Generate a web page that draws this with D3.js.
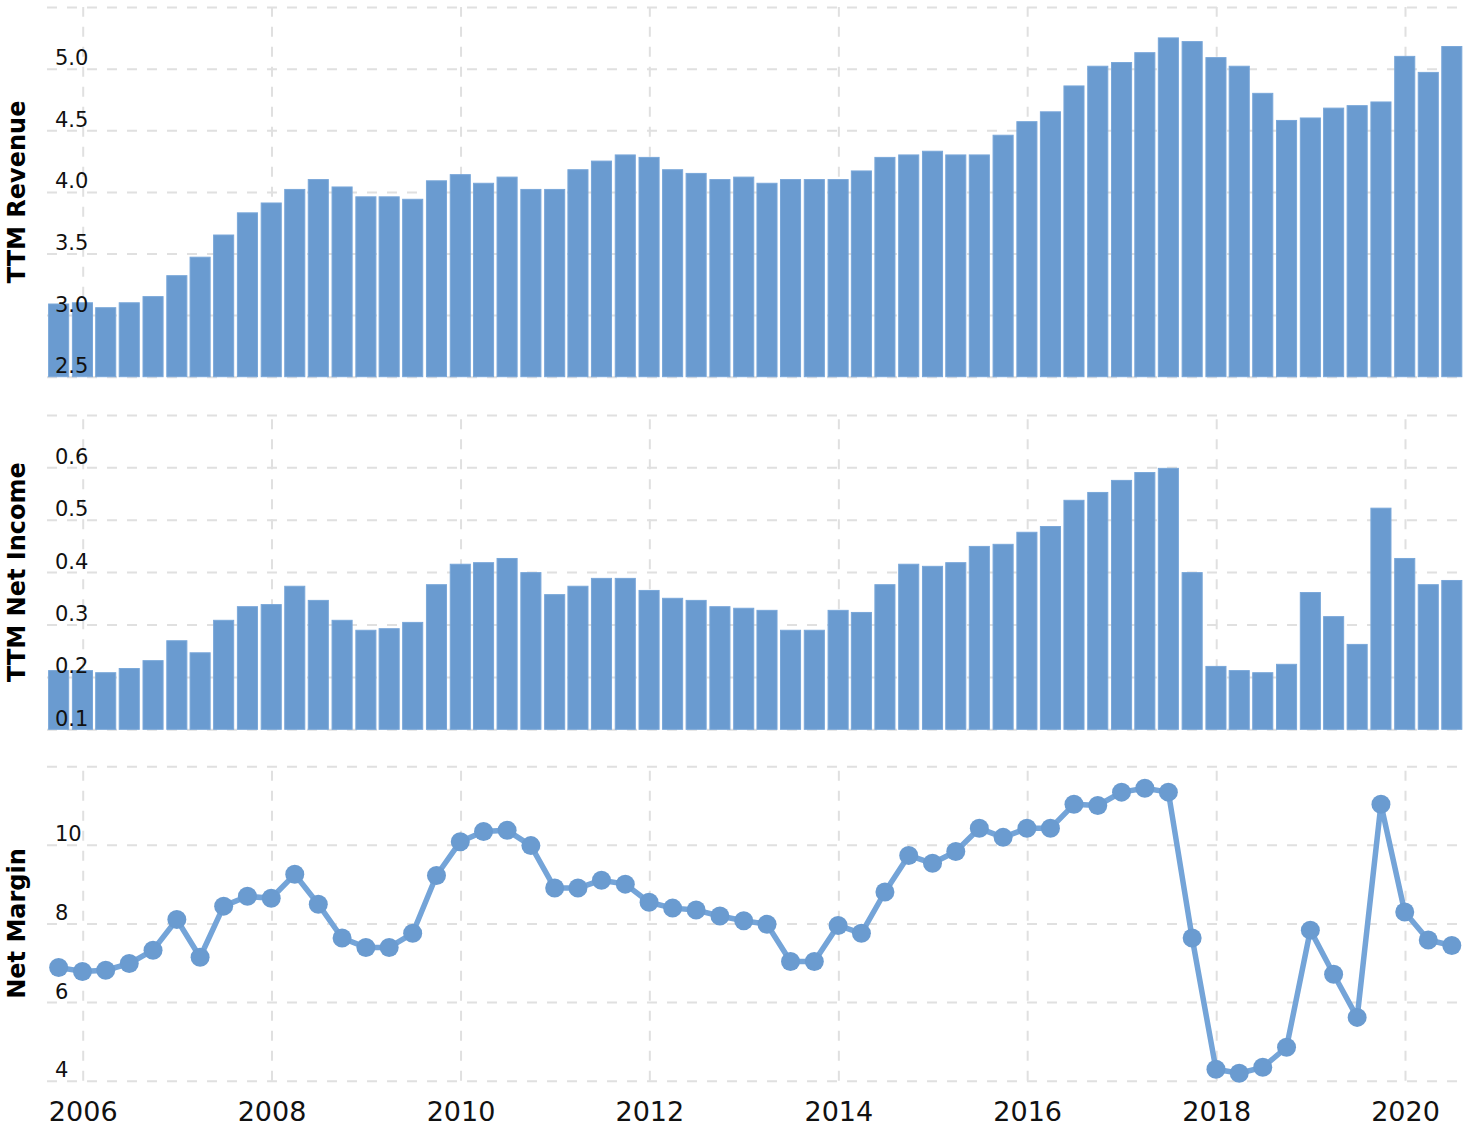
<!DOCTYPE html>
<html>
<head>
<meta charset="utf-8">
<script src="https://cdnjs.cloudflare.com/ajax/libs/d3/7.8.5/d3.min.js"></script>
<style>
  html, body { margin: 0; padding: 0; background: #fff; }
  svg { display: block; }
</style>
</head>
<body>
<svg id="chart" width="1468" height="1128"></svg>
<script>
// ---- Data ----
const quarters = [
  "2005-09-30","2005-12-31",
  "2006-03-31","2006-06-30","2006-09-30","2006-12-31",
  "2007-03-31","2007-06-30","2007-09-30","2007-12-31",
  "2008-03-31","2008-06-30","2008-09-30","2008-12-31",
  "2009-03-31","2009-06-30","2009-09-30","2009-12-31",
  "2010-03-31","2010-06-30","2010-09-30","2010-12-31",
  "2011-03-31","2011-06-30","2011-09-30","2011-12-31",
  "2012-03-31","2012-06-30","2012-09-30","2012-12-31",
  "2013-03-31","2013-06-30","2013-09-30","2013-12-31",
  "2014-03-31","2014-06-30","2014-09-30","2014-12-31",
  "2015-03-31","2015-06-30","2015-09-30","2015-12-31",
  "2016-03-31","2016-06-30","2016-09-30","2016-12-31",
  "2017-03-31","2017-06-30","2017-09-30","2017-12-31",
  "2018-03-31","2018-06-30","2018-09-30","2018-12-31",
  "2019-03-31","2019-06-30","2019-09-30","2019-12-31",
  "2020-03-31","2020-06-30"
];

const revenue = [
  3.09, 3.10, 3.06, 3.10, 3.15, 3.32, 3.47, 3.65, 3.83, 3.91,
  4.02, 4.10, 4.04, 3.96, 3.96, 3.94, 4.09, 4.14, 4.07, 4.12,
  4.02, 4.02, 4.18, 4.25, 4.30, 4.28, 4.18, 4.15, 4.10, 4.12,
  4.07, 4.10, 4.10, 4.10, 4.17, 4.28, 4.30, 4.33, 4.30, 4.30,
  4.46, 4.57, 4.65, 4.86, 5.02, 5.05, 5.13, 5.25, 5.22, 5.09,
  5.02, 4.80, 4.58, 4.60, 4.68, 4.70, 4.73, 5.10, 4.97, 5.18
];

const netIncome = [
  0.212, 0.212, 0.208, 0.216, 0.231, 0.269, 0.246, 0.308, 0.334, 0.338,
  0.373, 0.346, 0.308, 0.289, 0.292, 0.304, 0.376, 0.415, 0.418, 0.426,
  0.399, 0.357, 0.373, 0.388, 0.388, 0.365, 0.350, 0.346, 0.334, 0.331,
  0.327, 0.289, 0.289, 0.327, 0.323, 0.376, 0.415, 0.411, 0.418, 0.449,
  0.453, 0.476, 0.487, 0.537, 0.552, 0.575, 0.590, 0.598, 0.399, 0.220,
  0.212, 0.208, 0.224, 0.361, 0.315, 0.262, 0.522, 0.426, 0.376, 0.384
];

const netMargin = [
  6.88, 6.78, 6.81, 6.98, 7.32, 8.10, 7.14, 8.44, 8.69, 8.64,
  9.25, 8.49, 7.63, 7.39, 7.39, 7.75, 9.22, 10.08, 10.34, 10.37,
  9.98, 8.90, 8.90, 9.10, 9.00, 8.54, 8.39, 8.34, 8.19, 8.07,
  7.98, 7.03, 7.03, 7.95, 7.75, 8.80, 9.73, 9.53, 9.83, 10.42,
  10.19, 10.42, 10.42, 11.03, 11.00, 11.34, 11.44, 11.34, 7.63, 4.29,
  4.19, 4.34, 4.85, 7.83, 6.71, 5.61, 11.03, 8.29, 7.58, 7.44
];

const yearTicks = [2006, 2008, 2010, 2012, 2014, 2016, 2018, 2020];
const revenueTicks = [2.5, 3.0, 3.5, 4.0, 4.5, 5.0];
const netIncomeTicks = [0.1, 0.2, 0.3, 0.4, 0.5, 0.6];
const marginTicks = [4, 6, 8, 10];
const titles = ["TTM Revenue", "TTM Net Income", "Net Margin"];

// ---- Layout ----
const svg = d3.select("#chart");
const left = 47, right = 1462;
const parse = d3.utcParse("%Y-%m-%d");
const dates = quarters.map(parse);

const x = d3.scaleUtc()
  .domain([Date.UTC(2006, 0, 1), Date.UTC(2020, 0, 1)])
  .range([82.7, 1405]);

const yRev = d3.scaleLinear().domain([2.5, 5.5]).range([376.7, 7.1]);
const yNI = d3.scaleLinear().domain([0.1, 0.7]).range([729.3, 414.9]);
const yNM = d3.scaleLinear().domain([4, 12]).range([1080.7, 766.2]);

const blue = "#6a9bd0";
const gridColor = "#e0e0e0";
const fontFam = "'DejaVu Sans', Verdana, sans-serif";

const step = (x(dates[dates.length - 1]) - x(dates[0])) / (dates.length - 1);
const barW = step * 0.85;

const panels = [
  { y: yRev, values: revenue, ticks: revenueTicks, gridTicks: [2.5,3,3.5,4,4.5,5,5.5], fmt: d3.format(".1f"), type: "bar", title: titles[0] },
  { y: yNI, values: netIncome, ticks: netIncomeTicks, gridTicks: [0.1,0.2,0.3,0.4,0.5,0.6,0.7], fmt: d3.format(".1f"), type: "bar", title: titles[1] },
  { y: yNM, values: netMargin, ticks: marginTicks, gridTicks: [4,6,8,10,12], fmt: d3.format("d"), type: "line", title: titles[2] }
];

const yearDates = yearTicks.map(yv => new Date(Date.UTC(yv, 0, 1)));

panels.forEach(p => {
  const [yBot, yTop] = p.y.range();
  const g = svg.append("g");

  // vertical grid via axis
  const vg = g.append("g")
    .attr("transform", `translate(0,${yBot})`)
    .call(d3.axisBottom(x).tickValues(yearDates).tickSize(-(yBot - yTop)).tickFormat(""));
  vg.select(".domain").remove();
  vg.selectAll(".tick line")
    .attr("stroke", gridColor).attr("stroke-width", 2).attr("stroke-dasharray", "10,10");

  // horizontal grid via axis
  const hg = g.append("g")
    .attr("transform", `translate(${left},0)`)
    .call(d3.axisLeft(p.y).tickValues(p.gridTicks).tickSize(-(right - left)).tickFormat(""));
  hg.select(".domain").remove();
  hg.selectAll(".tick line")
    .attr("stroke", gridColor).attr("stroke-width", 2).attr("stroke-dasharray", "10,10");

  if (p.type === "bar") {
    g.append("g").selectAll("rect")
      .data(p.values)
      .join("rect")
      .attr("x", (d, i) => x(dates[i]) - barW / 2)
      .attr("width", barW)
      .attr("y", d => p.y(d))
      .attr("height", d => yBot - p.y(d))
      .attr("fill", blue)
      .attr("stroke", "#79a7d9")
      .attr("stroke-width", 1);
  } else {
    const line = d3.line()
      .x((d, i) => x(dates[i]))
      .y(d => p.y(d));
    g.append("path")
      .datum(p.values)
      .attr("d", line)
      .attr("fill", "none")
      .attr("stroke", "#74a4d8")
      .attr("stroke-width", 5.5)
      .attr("stroke-linejoin", "round");
    g.append("g").selectAll("circle")
      .data(p.values)
      .join("circle")
      .attr("cx", (d, i) => x(dates[i]))
      .attr("cy", d => p.y(d))
      .attr("r", 9.5)
      .attr("fill", blue);
  }

  // tick labels via axis (drawn on top)
  const lab = g.append("g")
    .attr("transform", `translate(${left},0)`)
    .call(d3.axisLeft(p.y).tickValues(p.ticks).tickSize(0).tickFormat(p.fmt));
  lab.select(".domain").remove();
  lab.selectAll(".tick line").remove();
  lab.selectAll(".tick text")
    .attr("x", 8)
    .attr("dy", -4)
    .attr("text-anchor", "start")
    .attr("dominant-baseline", "auto")
    .attr("font-family", fontFam)
    .attr("font-size", 21)
    .attr("fill", "#111");

  // title
  svg.append("text")
    .attr("transform", `translate(25,${(yBot + yTop) / 2}) rotate(-90)`)
    .attr("text-anchor", "middle")
    .attr("font-family", fontFam)
    .attr("font-weight", "bold")
    .attr("font-size", 24)
    .attr("fill", "#000")
    .text(p.title);
});

// x axis year labels
const xa = svg.append("g")
  .attr("transform", `translate(0,1121)`)
  .call(d3.axisBottom(x).tickValues(yearDates).tickSize(0).tickFormat(d3.utcFormat("%Y")));
xa.select(".domain").remove();
xa.selectAll(".tick text")
  .attr("y", 0)
  .attr("dy", 0)
  .attr("font-family", fontFam)
  .attr("font-size", 27)
  .attr("fill", "#111");
</script>
</body>
</html>
